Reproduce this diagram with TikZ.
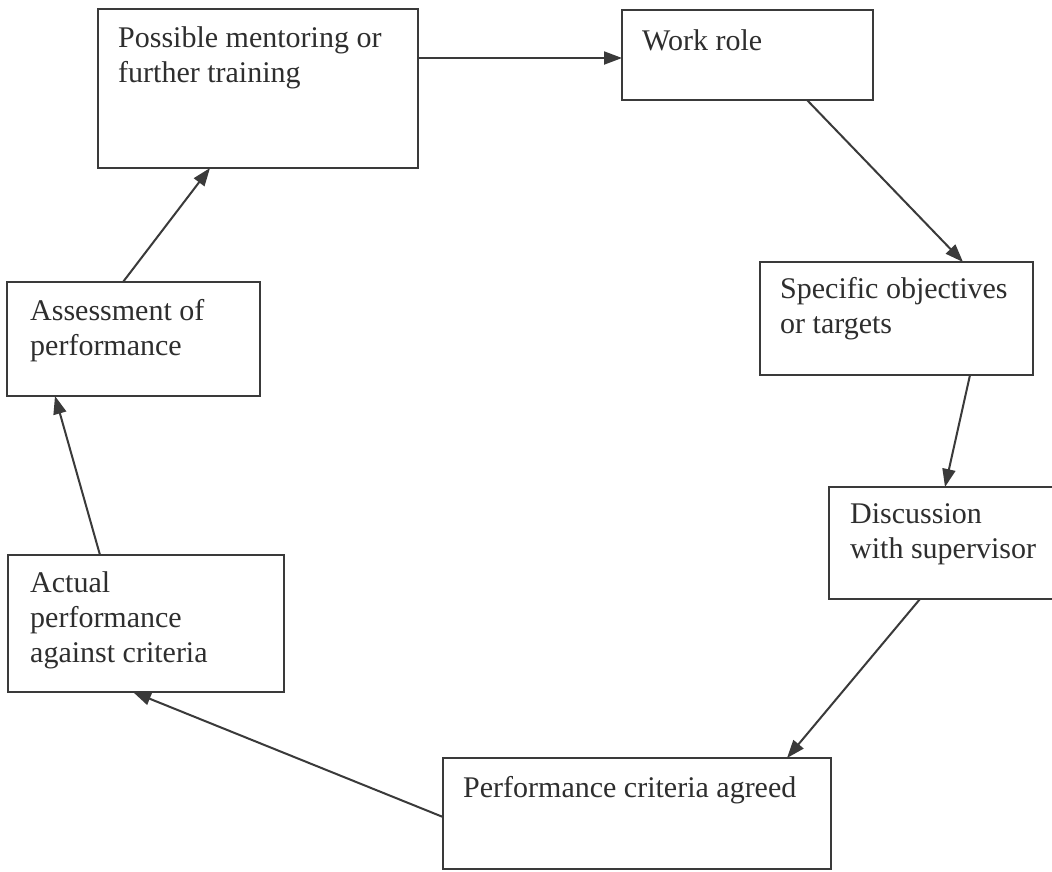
\documentclass[tikz,border=0pt]{standalone}
\usepackage{fontspec}
\setmainfont{Liberation Serif}
\usetikzlibrary{arrows.meta}
\definecolor{ink}{HTML}{3A3A3A}
\definecolor{txt}{HTML}{2E2E2E}
\tikzset{
  box/.style={draw=ink, line width=2.3pt, fill=none, inner sep=0pt, outer sep=0pt, anchor=north west},
  lbl/.style={text=txt, font=\fontsize{30}{35}\selectfont, align=left, inner sep=0pt, anchor=north west},
  conn/.style={draw=ink, line width=2pt, -{Triangle[length=18pt,width=13pt]}}
}
\begin{document}
\begin{tikzpicture}[x=1pt, y=-1pt]
\clip (0,0) rectangle (1052,871);
\fill[white] (0,0) rectangle (1052,871);
% boxes
\node[box, minimum width=320pt, minimum height=159pt] (b1) at (98,9) {};
\node[box, minimum width=251pt, minimum height=90pt] (wr) at (622,10) {};
\node[box, minimum width=273pt, minimum height=113pt] (so) at (760,262) {};
\node[box, minimum width=240pt, minimum height=112pt] (ds) at (829,487) {};
\node[box, minimum width=388pt, minimum height=111pt] (pc) at (443,758) {};
\node[box, minimum width=276pt, minimum height=137pt] (ap) at (8,555) {};
\node[box, minimum width=253pt, minimum height=114pt] (as) at (7,282) {};
% labels
\node[lbl] (t1) at (118,22.5) {\strut Possible mentoring or\\further training};
\node[lbl] (t2) at (642,25.5) {\strut Work role};
\node[lbl] (t3) at (780,273.5) {\strut Specific objectives\\or targets};
\node[lbl] (t4) at (850,498.5) {\strut Discussion\\with supervisor};
\node[lbl] (t5) at (463,772.5) {\strut Performance criteria agreed};
\node[lbl] (t6) at (30,567.5) {\strut Actual\\performance\\against criteria};
\node[lbl] (t7) at (30,295.5) {\strut Assessment of\\performance};
% connectors
\coordinate (c1) at ([yshift=-49pt]b1.north east);
\draw[conn] (c1) -- (c1 -| wr.west);
\draw[conn] ([xshift=185pt]wr.south west) -- ([xshift=203pt]so.north west);
\draw[conn] ([xshift=210pt]so.south west) -- ([xshift=116pt]ds.north west);
\draw[conn] ([xshift=91pt]ds.south west) -- ([xshift=344pt]pc.north west);
\draw[conn] ([yshift=-59pt]pc.north west) -- ([xshift=125pt]ap.south west);
\draw[conn] ([xshift=92pt]ap.north west) -- ([xshift=48pt]as.south west);
\draw[conn] ([xshift=116pt]as.north west) -- ([xshift=112pt]b1.south west);
\end{tikzpicture}
\end{document}
